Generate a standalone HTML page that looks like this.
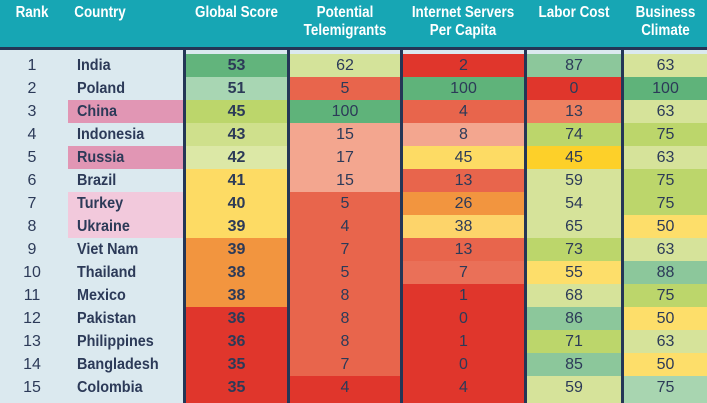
<!DOCTYPE html>
<html><head><meta charset="utf-8"><style>
body{margin:0;width:707px;height:403px;overflow:hidden;background:#dbe9ef;font-family:"Liberation Sans",sans-serif;position:relative}
#hdr{position:absolute;left:0;top:0;width:707px;height:47px;background:#17a6b4}
#line{position:absolute;left:0;top:47px;width:707px;height:3px;background:#243656}
.h{position:absolute;color:#fff;font-weight:bold;font-size:16px;line-height:18px;text-align:center;transform:scaleX(0.84);transform-origin:center top;white-space:nowrap}
.sep{position:absolute;top:50px;width:3px;height:353px;background:#243656}
.c{position:absolute;line-height:24px;text-align:center;font-size:16px;color:#2c3a58}
.t{position:absolute;line-height:24px;font-size:16px;color:#2c3a58}
</style></head><body>
<div id="hdr"></div>
<div id="line"></div>
<div class="h" style="left:8px;width:48px;top:4px">Rank</div>
<div class="h" style="left:60px;width:80px;top:4px">Country</div>
<div class="h" style="left:176px;width:121px;top:4px">Global Score</div>
<div class="h" style="left:285px;width:120px;top:4px">Potential<br>Telemigrants</div>
<div class="h" style="left:393px;width:140px;top:4px">Internet Servers<br>Per Capita</div>
<div class="h" style="left:519px;width:110px;top:4px">Labor Cost</div>
<div class="h" style="left:619px;width:93px;top:4px">Business<br>Climate</div>
<div id="tbl"></div>
<script>
const countries=["India","Poland","China","Indonesia","Russia","Brazil","Turkey","Ukraine","Viet Nam","Thailand","Mexico","Pakistan","Philippines","Bangladesh","Colombia"];
const globalScore=[53,51,45,43,42,41,40,39,39,38,38,36,36,35,35];
const telemigrants=[62,5,100,15,17,15,5,4,7,5,8,8,8,7,4];
const servers=[2,100,4,8,45,13,26,38,13,7,1,0,1,0,4];
const labor=[87,0,13,74,45,59,54,65,73,55,68,86,71,85,59];
const business=[63,100,63,75,63,75,75,50,63,88,75,50,63,50,75];
const highlight=["","","dark","","dark","","light","light","","","","","","",""];
const gCol=["#62b47c","#a8d6b3","#bcd66b","#cfe08c","#dce8a6","#fddb64","#fddb64","#fddb64","#f2953f","#f2953f","#f2953f","#e0362c","#e0362c","#e0362c","#e0362c"];
const tCol=["#d4e39a","#e8654c","#5fb37a","#f3a68f","#f3a68f","#f3a68f","#e8654c","#e8654c","#e8654c","#e8654c","#e8654c","#e8654c","#e8654c","#e8654c","#e0362c"];
const sCol=["#e0362c","#5fb37a","#e8654c","#f3a68f","#fddb64","#e8654c","#f2953f","#fdd46a","#e8654c","#ea7058","#e0362c","#e0362c","#e0362c","#e0362c","#e0362c"];
const lCol=["#8cc79b","#e0362c","#ee8060","#bcd66b","#fdd029","#d6e39a","#d6e39a","#d6e39a","#bcd66b","#fdde6a","#d6e39a","#8cc79b","#bcd66b","#8cc79b","#d6e39a"];
const bCol=["#d6e39a","#5fb37a","#d6e39a","#bcd66b","#d6e39a","#bcd66b","#bcd66b","#fdde6a","#d6e39a","#8cc79b","#bcd66b","#fdde6a","#d6e39a","#fdde6a","#a8d5b0"];
const cols=[
 {name:'global-score',x:186,w:101,v:globalScore,c:gCol,b:true},
 {name:'telemigrants',x:290,w:110,v:telemigrants,c:tCol},
 {name:'internet-servers',x:403,w:121,v:servers,c:sCol},
 {name:'labor-cost',x:527,w:94,v:labor,c:lCol},
 {name:'business-climate',x:624,w:83,v:business,c:bCol}];
const tbl=document.getElementById('tbl');
const RH=23;
const rowY=i=>54+i*RH;
countries.forEach((n,i)=>{
 const y=rowY(i);
 const hgt=(i==countries.length-1)?(403-y):RH;
 if(highlight[i]){const h=document.createElement('div');h.className='t';
  
  
  h.style.cssText=`left:68px;width:115px;top:${y}px;height:${RH}px;background:${highlight[i]=='dark'?'#e196b4':'#f2c9dc'}`;tbl.appendChild(h);}
 const r=document.createElement('div');r.className='c';
 
 
 r.style.cssText=`left:12px;width:40px;top:${y}px;height:${RH}px`;r.textContent=i+1;tbl.appendChild(r);
 const c=document.createElement('div');c.className='t';
 
 
 c.style.cssText=`left:77px;top:${y}px;height:${RH}px;font-weight:bold;transform:scaleX(0.9);transform-origin:left;white-space:nowrap`;c.textContent=n;tbl.appendChild(c);
 cols.forEach(col=>{const d=document.createElement('div');d.className='c';
  
  
  d.style.cssText=`left:${col.x}px;width:${col.w}px;top:${y}px;height:${hgt}px;background:${col.c[i]};${col.b?'font-weight:bold;':''}`;
  d.textContent=col.v[i];tbl.appendChild(d);});
});
[183,287,400,524,621].forEach(x=>{const s=document.createElement('div');s.className='sep';
 
 
 s.style.left=x+'px';tbl.appendChild(s);});
</script>
</body></html>
